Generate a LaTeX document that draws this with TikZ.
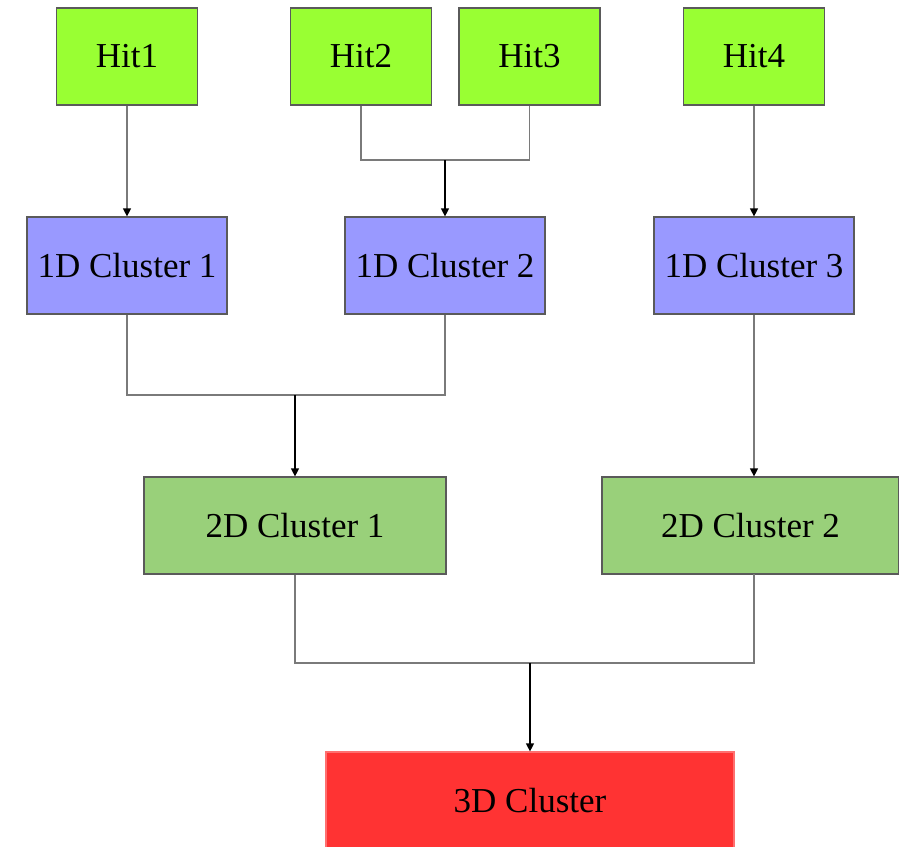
\documentclass[tikz,border=0pt]{standalone}
\usepackage{fontspec}
\setmainfont{Liberation Serif}
\usetikzlibrary{arrows.meta}
\definecolor{hitgreen}{HTML}{99FF33}
\definecolor{onedblue}{HTML}{9999FF}
\definecolor{twodgreen}{HTML}{99D07A}
\definecolor{threedred}{HTML}{FF3333}
\definecolor{edgegray}{HTML}{5A5A5A}
\definecolor{linkgray}{HTML}{7A7A7A}
\begin{document}
\begin{tikzpicture}[x=1pt,y=1pt,
  box/.style={draw=edgegray,line width=1.2pt,inner sep=0pt,
    font=\fontsize{35}{40}\selectfont,text=black},
  hitbox/.style={box,fill=hitgreen,minimum width=141pt,minimum height=97pt},
  onedbox/.style={box,fill=onedblue,minimum width=200pt,minimum height=97pt},
  twodbox/.style={box,fill=twodgreen,minimum height=97pt},
  threedbox/.style={box,draw=threedred!70!white,fill=threedred,minimum width=408pt,minimum height=97pt},
  link/.style={draw=linkgray,line width=1.2pt},
  feed/.style={link,-{Triangle[length=8pt,width=8pt,color=black]}},
  stem/.style={draw=black,line width=1.2pt,-{Triangle[length=8pt,width=8pt]}}]
\useasboundingbox (0,0) rectangle (899,-846);

% hits
\node[hitbox] (hit1) at (127,-56.5) {Hit1};
\node[hitbox] (hit2) at (361,-56.5) {Hit2};
\node[hitbox] (hit3) at (529.5,-56.5) {Hit3};
\node[hitbox] (hit4) at (754,-56.5) {Hit4};

% one-dimensional clusters
\node[onedbox] (c1a) at (127,-265.5) {1D Cluster 1};
\node[onedbox] (c1b) at (445,-265.5) {1D Cluster 2};
\node[onedbox] (c1c) at (754,-265.5) {1D Cluster 3};

% two-dimensional clusters
\node[twodbox,minimum width=302pt] (c2a) at (295,-525.5) {2D Cluster 1};
\node[twodbox,minimum width=297pt] (c2b) at (750.5,-525.5) {2D Cluster 2};

% three-dimensional cluster
\node[threedbox] (c3) at (530,-800.5) {3D Cluster};

% junction points of the merging connectors
\coordinate (j1) at (445,-160);
\coordinate (j2) at (295,-395);
\coordinate (j3) at (530,-663);
\coordinate (c2bout) at (754,-574);

% hits to 1D clusters
\draw[feed] (hit1.south) -- (c1a.north);
\draw[link] (hit2.south) |- (hit3.south |- j1) -- (hit3.south);
\draw[stem] (j1) -- (c1b.north);
\draw[feed] (hit4.south) -- (c1c.north);

% 1D clusters to 2D clusters
\draw[link] (c1a.south) |- (c1b.south |- j2) -- (c1b.south);
\draw[stem] (j2) -- (c2a.north);
\draw[feed] (c1c.south) -- (c1c.south |- c2b.north);

% 2D clusters to 3D cluster
\draw[link] (c2a.south) |- (c2bout |- j3) -- (c2bout);
\draw[stem] (j3) -- (c3.north);
\end{tikzpicture}
\end{document}
